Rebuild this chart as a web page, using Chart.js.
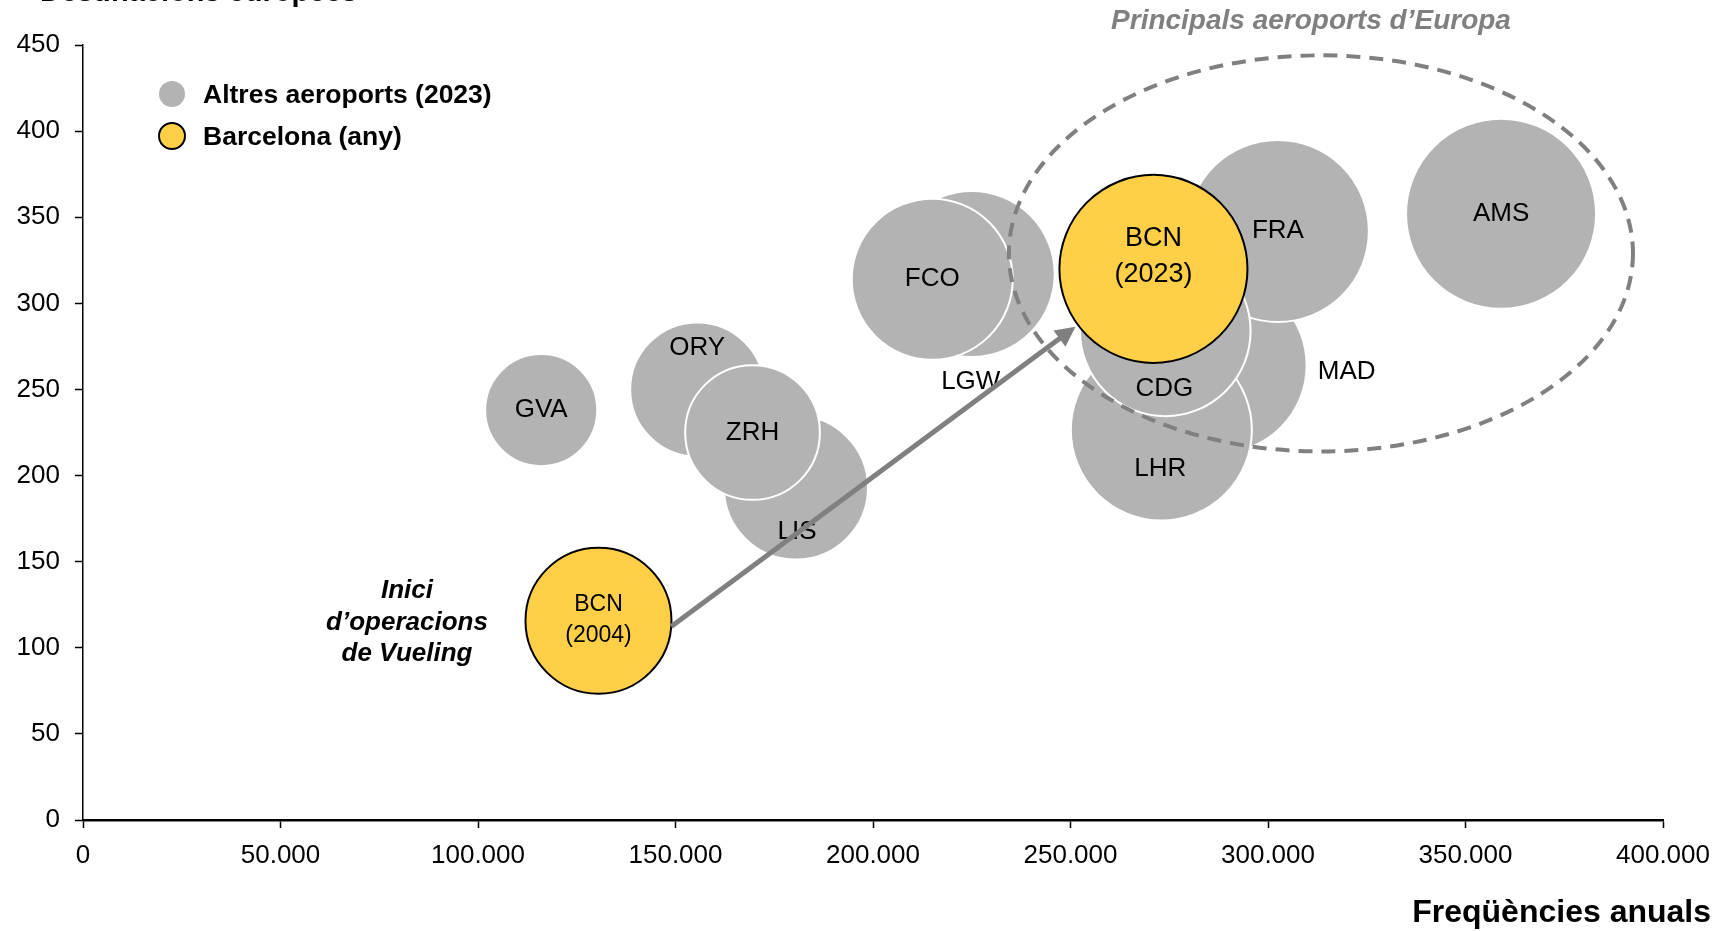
<!DOCTYPE html>
<html lang="ca">
<head>
<meta charset="utf-8">
<title>Destinacions europees i freqüències anuals</title>
<script src="https://cdn.jsdelivr.net/npm/chart.js@4.4.1/dist/chart.umd.min.js"></script>
<style>
  html, body { margin: 0; padding: 0; background: #fff; }
  #wrap { width: 1717px; height: 931px; }
</style>
</head>
<body>
<div id="wrap"><canvas id="bubbleChart" width="1717" height="931"></canvas></div>
<script>
// altres aeroports (2023): freqüencies anuals, destinacions europees, mida de la bombolla
const aeroports = ['GVA', 'ORY', 'LIS', 'ZRH', 'LGW', 'FCO', 'MAD', 'LHR', 'FRA', 'CDG', 'AMS']
const frequencies = [116000, 155500, 180500, 169500, 225000, 215000, 287500, 273000, 302500, 274000, 359000]
const destinacions = [238, 250, 193, 225, 317, 314, 264, 226.5, 342, 284, 352]
const mida = [21.8, 31.2, 36, 31.5, 47.8, 45, 53.8, 56.9, 57.5, 50.5, 62.7]

// Barcelona per any
const bcnAnys = ['2004', '2023']
const bcnFrequencies = [130500, 271000]
const bcnDestinacions = [115.7, 320]
const bcnMida = [37, 61.4]

const xTicks = [0, 50000, 100000, 150000, 200000, 250000, 300000, 350000, 400000]
const yTicks = [0, 50, 100, 150, 200, 250, 300, 350, 400, 450]

// zona dels principals aeroports (en unitats de dades)
const zonaPrincipals = { x: 313400, y: 329, rx: 79000, ry: 115 }

const FONT = '"Liberation Sans", Arial, Helvetica, sans-serif'
const GRIS = '#B3B3B3'
const GROC = '#FFCF48'
const GRIS_FOSC = '#808080'

const radi = (v) => 12 * Math.sqrt(v)
const formatMil = (v) => (v === 0 ? '0' : String(v).replace(/\B(?=(\d{3})+(?!\d))/g, '.'))

// desplaçament de les etiquetes respecte del centre de la bombolla (px)
const etiquetaDesp = {
	ORY: [0, -42],
	LIS: [1, 44],
	LGW: [-1, 108],
	CDG: [-1, 58],
	LHR: [-1, 39],
	MAD: [128, 6],
}

Chart.defaults.font.family = FONT
Chart.defaults.font.size = 26
Chart.defaults.color = '#000'

const anotacions = {
	id: 'anotacions',
	afterDatasetsDraw(chart) {
		const ctx = chart.ctx
		const sx = chart.scales.x
		const sy = chart.scales.y
		const bcn = chart.getDatasetMeta(0).data
		const altres = chart.getDatasetMeta(1).data

		ctx.save()
		ctx.textAlign = 'center'
		ctx.textBaseline = 'middle'
		ctx.fillStyle = '#000'

		// etiquetes altres aeroports
		ctx.font = `26px ${FONT}`
		altres.forEach((el, i) => {
			const d = etiquetaDesp[aeroports[i]] || [0, 0]
			ctx.fillText(aeroports[i], el.x + d[0], el.y + d[1])
		})

		// etiquetes Barcelona
		ctx.font = `23px ${FONT}`
		ctx.fillText('BCN', bcn[0].x, bcn[0].y - 16)
		ctx.fillText(`(${bcnAnys[0]})`, bcn[0].x, bcn[0].y + 15)
		ctx.font = `27px ${FONT}`
		ctx.fillText('BCN', bcn[1].x, bcn[1].y - 30)
		ctx.fillText(`(${bcnAnys[1]})`, bcn[1].x, bcn[1].y + 6)

		// el·lipse discontínua
		const cx = sx.getPixelForValue(zonaPrincipals.x)
		const cy = sy.getPixelForValue(zonaPrincipals.y)
		const rx = sx.getPixelForValue(zonaPrincipals.x + zonaPrincipals.rx) - cx
		const ry = cy - sy.getPixelForValue(zonaPrincipals.y + zonaPrincipals.ry)
		ctx.beginPath()
		ctx.setLineDash([14, 9])
		ctx.lineWidth = 4
		ctx.strokeStyle = GRIS_FOSC
		ctx.ellipse(cx, cy, rx, ry, 0, 0, Math.PI * 2)
		ctx.stroke()
		ctx.setLineDash([])

		// fletxa 2004 -> 2023
		const r0 = bcn[0].options.radius
		const r1 = bcn[1].options.radius
		const x0 = bcn[0].x + r0 * Math.cos(0.08)
		const y0 = bcn[0].y + r0 * Math.sin(0.08)
		const dx = bcn[1].x - x0
		const dy = bcn[1].y - y0
		const len = Math.hypot(dx, dy)
		const ux = dx / len
		const uy = dy / len
		const x1 = bcn[1].x - ux * (r1 + 3)
		const y1 = bcn[1].y - uy * (r1 + 3)
		const cap = 20
		const amp = 10
		ctx.strokeStyle = GRIS_FOSC
		ctx.fillStyle = GRIS_FOSC
		ctx.lineWidth = 5
		ctx.beginPath()
		ctx.moveTo(x0, y0)
		ctx.lineTo(x1 - ux * cap * 0.8, y1 - uy * cap * 0.8)
		ctx.stroke()
		ctx.beginPath()
		ctx.moveTo(x1, y1)
		ctx.lineTo(x1 - ux * cap - uy * amp, y1 - uy * cap + ux * amp)
		ctx.lineTo(x1 - ux * cap + uy * amp, y1 - uy * cap - ux * amp)
		ctx.closePath()
		ctx.fill()

		// text "Inici d'operacions de Vueling"
		ctx.fillStyle = '#000'
		ctx.font = `italic bold 26px ${FONT}`
		ctx.textBaseline = 'alphabetic'
		ctx.fillText('Inici', 407, 598)
		ctx.fillText('d\u2019operacions', 407, 630)
		ctx.fillText('de Vueling', 407, 661)

		// títol zona
		ctx.fillStyle = GRIS_FOSC
		ctx.font = `italic bold 28px ${FONT}`
		ctx.fillText('Principals aeroports d\u2019Europa', 1311, 29)

		// llegenda
		const ds = chart.data.datasets
		ctx.textAlign = 'left'
		ctx.textBaseline = 'middle'
		ctx.font = `bold 26.5px ${FONT}`
		ctx.beginPath()
		ctx.arc(172, 94, 13, 0, Math.PI * 2)
		ctx.fillStyle = GRIS
		ctx.fill()
		ctx.fillStyle = '#000'
		ctx.fillText(ds[1].label, 203, 96)
		ctx.beginPath()
		ctx.arc(172, 136, 13, 0, Math.PI * 2)
		ctx.fillStyle = GROC
		ctx.fill()
		ctx.lineWidth = 2
		ctx.strokeStyle = '#000'
		ctx.stroke()
		ctx.fillStyle = '#000'
		ctx.fillText(ds[0].label, 203, 138)

		// títols d'eixos
		ctx.textBaseline = 'alphabetic'
		ctx.font = `bold 29px ${FONT}`
		ctx.fillText('Destinacions europees', 40, 1)
		ctx.textAlign = 'right'
		ctx.font = `bold 32px ${FONT}`
		ctx.fillText('Freqüències anuals', 1711, 922)
		ctx.restore()
	},
}

new Chart(document.getElementById('bubbleChart'), {
	type: 'bubble',
	data: {
		datasets: [
			{
				label: 'Barcelona (any)',
				data: bcnAnys.map((a, i) => ({ x: bcnFrequencies[i], y: bcnDestinacions[i], r: radi(bcnMida[i]) })),
				backgroundColor: GROC,
				borderColor: '#000',
				borderWidth: 2,
			},
			{
				label: 'Altres aeroports (2023)',
				data: aeroports.map((a, i) => ({ x: frequencies[i], y: destinacions[i], r: radi(mida[i]) })),
				backgroundColor: GRIS,
				borderColor: '#fff',
				borderWidth: 2,
			},
		],
	},
	options: {
		responsive: false,
		animation: false,
		events: [],
		clip: false,
		layout: { autoPadding: false, padding: { left: 0, top: 45, right: 54, bottom: 0 } },
		plugins: {
			legend: { display: false },
			tooltip: { enabled: false },
		},
		scales: {
			x: {
				type: 'linear',
				min: 0,
				max: 400000,
				afterBuildTicks: (s) => { s.ticks = xTicks.map((v) => ({ value: v })) },
				afterFit: (s) => {
					s.height = 111
					s.paddingLeft = 0
					s.paddingRight = 0
				},
				ticks: { callback: (v) => formatMil(v), padding: 12, maxRotation: 0, autoSkip: false, color: '#000' },
				grid: { drawOnChartArea: false, tickLength: 8, tickColor: '#000', tickWidth: 1.5 },
				border: { color: '#000', width: 2.5 },
			},
			y: {
				type: 'linear',
				min: 0,
				max: 450,
				afterBuildTicks: (s) => { s.ticks = yTicks.map((v) => ({ value: v })) },
				afterFit: (s) => {
					s.width = 83
					s.paddingTop = 0
					s.paddingBottom = 0
				},
				ticks: { padding: 15, color: '#000' },
				grid: { drawOnChartArea: false, tickLength: 8, tickColor: '#000', tickWidth: 1.5 },
				border: { color: '#000', width: 1.5 },
			},
		},
	},
	plugins: [anotacions],
})
</script>
</body>
</html>
